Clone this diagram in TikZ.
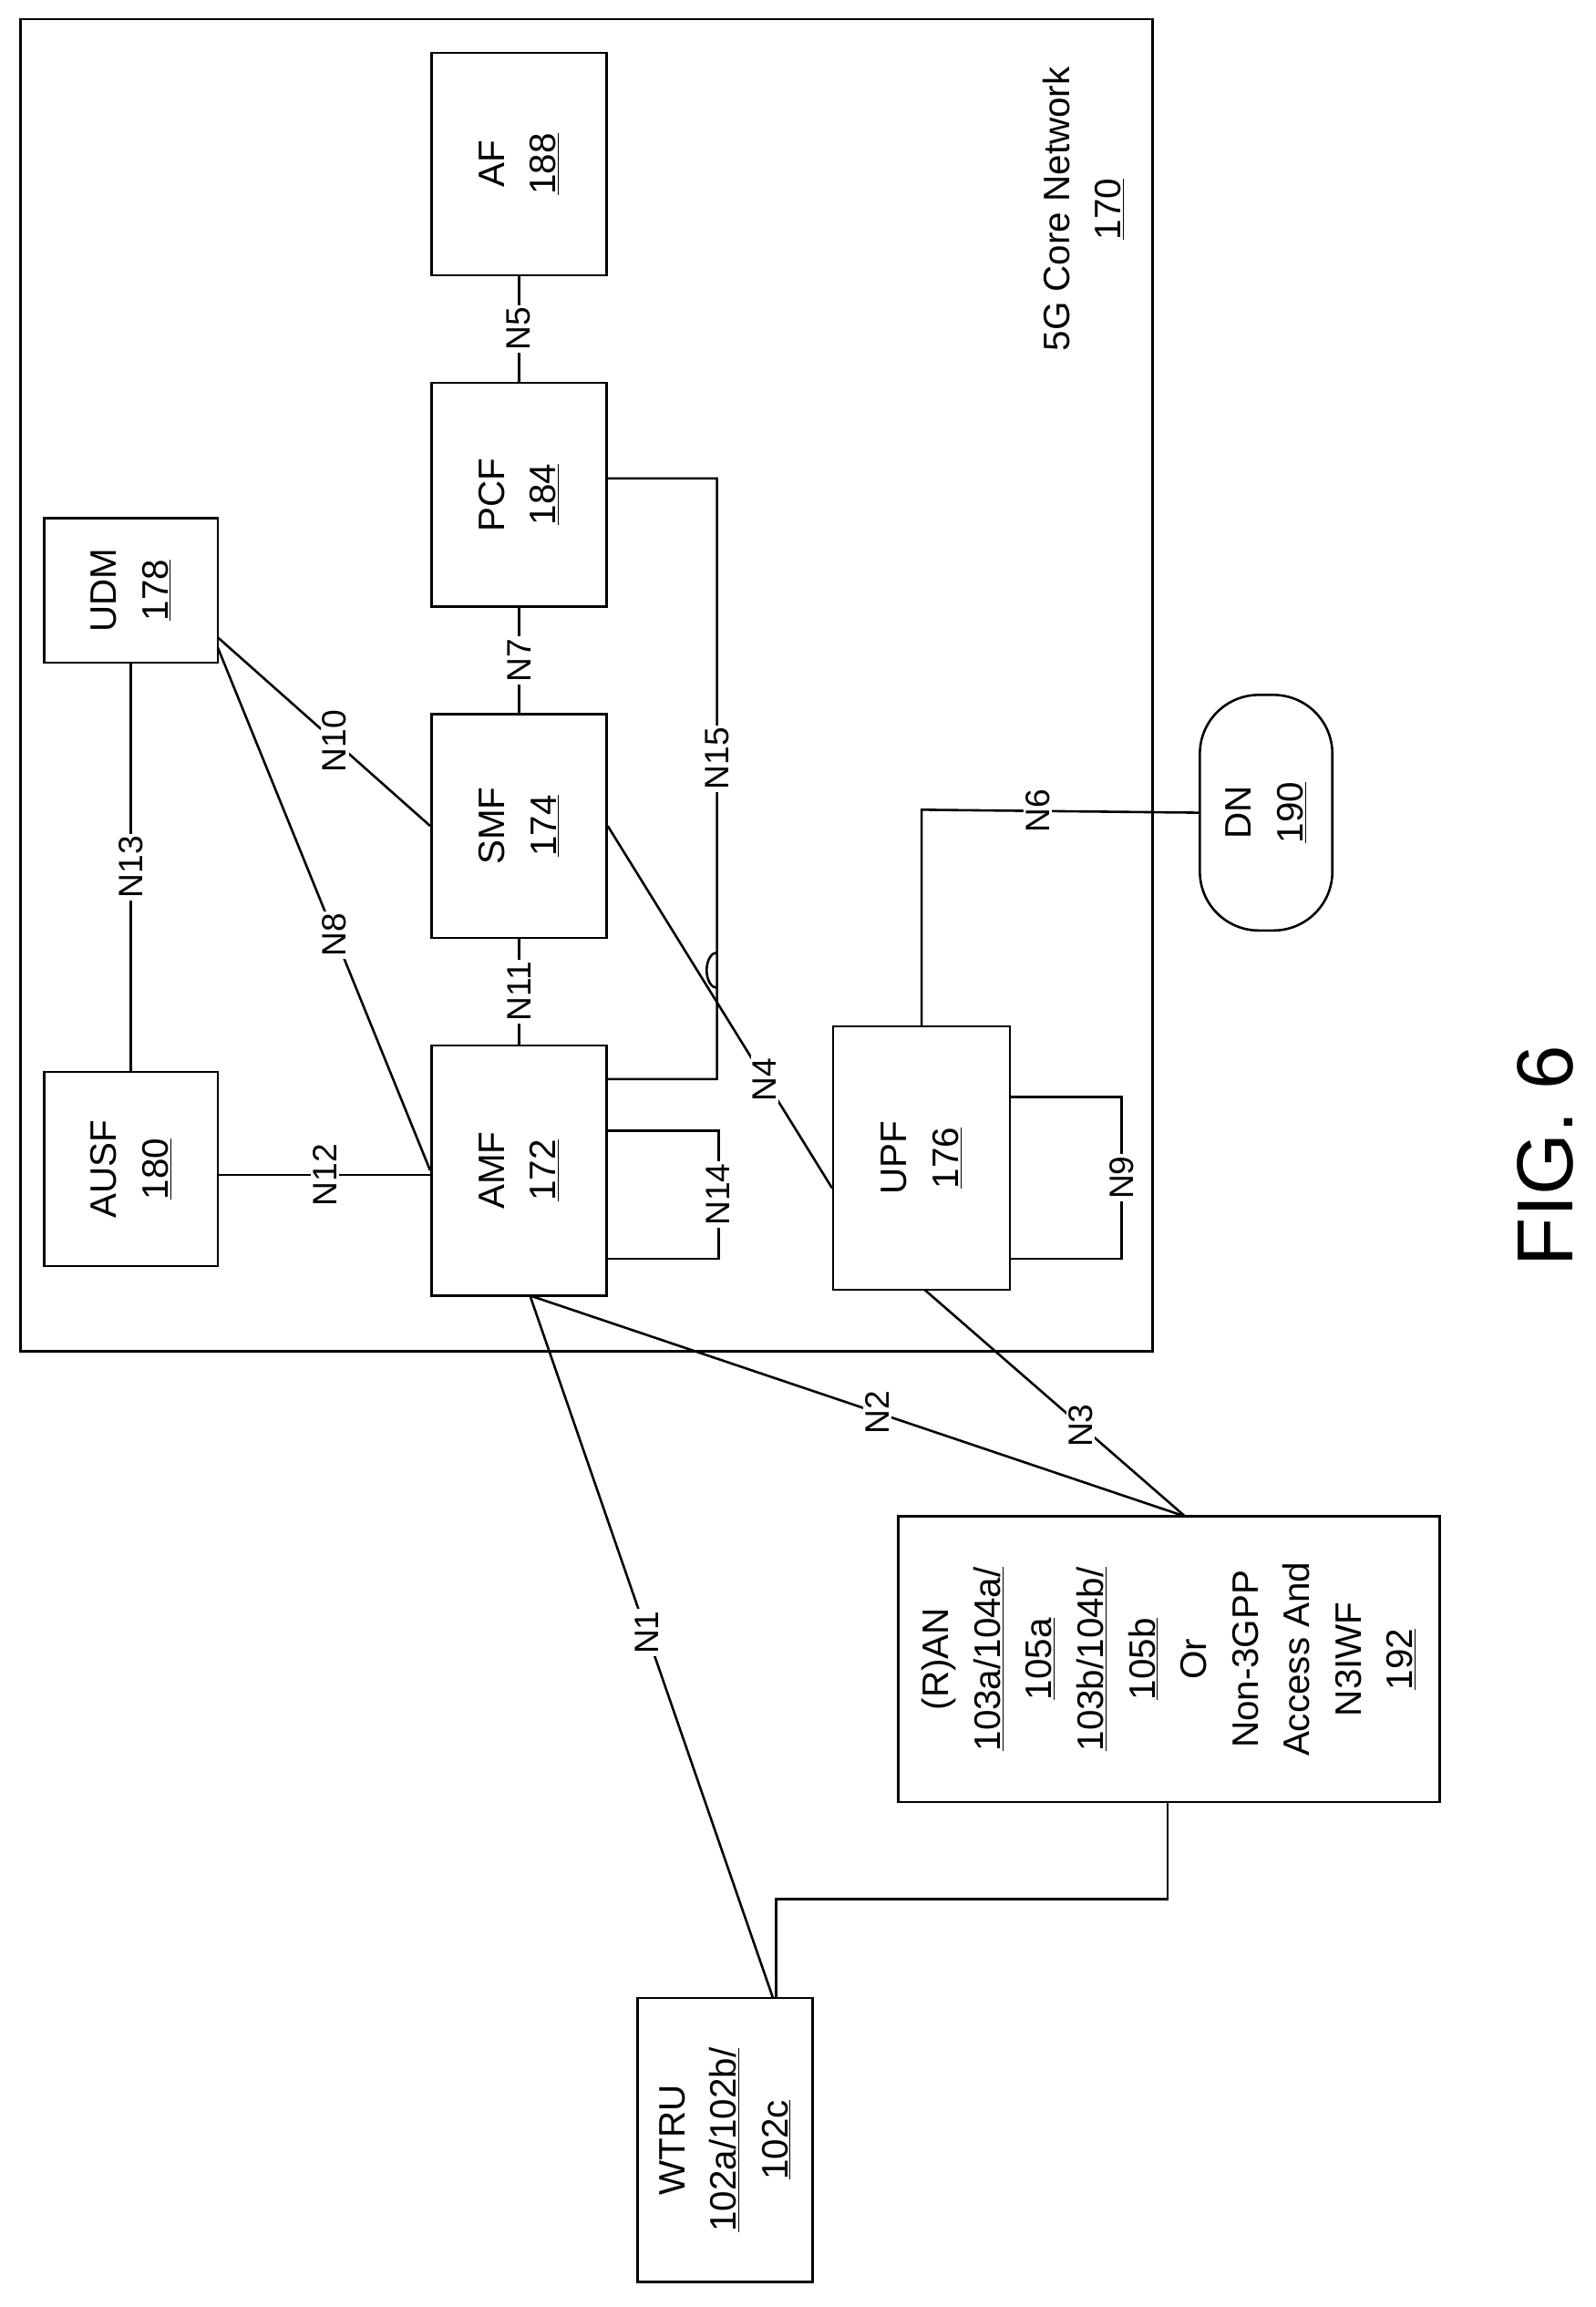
\documentclass[tikz,border=0pt]{standalone}
\usepackage{fontspec}
\setmainfont{Liberation Sans}
\usetikzlibrary{calc}
\begin{document}
\begin{tikzpicture}[x=1pt,y=-1pt,line width=1.6pt,
 box/.style={draw,inner sep=0pt},
 txt/.style={rotate=90,align=center,font=\fontsize{25}{35}\selectfont,inner sep=0pt},
 lab/.style={rotate=90,fill=white,inner sep=1.5pt,font=\fontsize{23}{26}\selectfont}]
\useasboundingbox (0,0) rectangle (1084,1567);
\draw (14,13) rectangle (783,918);
\node[box,minimum width=119pt,minimum height=151pt] (af) at (352.5,111.5) {};
\node[box,minimum width=119pt,minimum height=152pt] (pcf) at (352.5,336) {};
\node[box,minimum width=119pt,minimum height=152pt] (smf) at (352.5,561) {};
\node[box,minimum width=119pt,minimum height=170pt] (amf) at (352.5,795) {};
\node[box,minimum width=118pt,minimum height=98pt] (udm) at (89,401) {};
\node[box,minimum width=118pt,minimum height=132pt] (ausf) at (89,794) {};
\node[box,minimum width=120pt,minimum height=179pt] (upf) at (626,786.5) {};
\node[draw,rounded corners=40pt,minimum width=90pt,minimum height=160pt] (dn) at (860,552) {};
\node[box,minimum width=368pt,minimum height=194pt] (ran) at (794,1127) {};
\node[box,minimum width=119pt,minimum height=193pt] (wtru) at (492.5,1453.5) {};
\node[txt] at (af) {AF\\\underline{188}};
\node[txt] at (pcf) {PCF\\\underline{184}};
\node[txt] at (smf) {SMF\\\underline{174}};
\node[txt] at (amf) {AMF\\\underline{172}};
\node[txt] at (udm) {UDM\\\underline{178}};
\node[txt] at (ausf) {AUSF\\\underline{180}};
\node[txt] at (upf) {UPF\\\underline{176}};
\node[txt] at (dn) {DN\\\underline{190}};
\node[txt] at (ran) {(R)AN\\\underline{103a/104a/}\\\underline{105a}\\\underline{103b/104b/}\\\underline{105b}\\Or\\Non-3GPP\\Access And\\N3IWF\\\underline{192}};
\node[txt] at (wtru) {WTRU\\\underline{102a/102b/}\\\underline{102c}};
\node[txt] (core) at (736,142) {5G Core Network\\\underline{170}};
\node[rotate=90,font=\fontsize{54}{58}\selectfont,inner sep=0pt] (fig) at (1050,785) {FIG. 6};
% connectors
\draw (af) -- node[lab]{N5} (pcf);
\draw (pcf) -- node[lab]{N7} (smf);
\draw (smf) -- node[lab]{N11} (amf);
\draw (udm) -- node[lab]{N13} (ausf);
\draw (ausf.east |- 0,798) -- node[lab,pos=0.5]{N12} (amf.west |- 0,798);
\draw (148,433) -- node[lab,pos=0.55]{N10} (smf.west);
\draw (148,440) -- node[lab,pos=0.55]{N8} (amf.west);
\draw (smf.east) -- node[lab,pos=0.7]{N4} (upf.west |- 0,807);
\draw (pcf.east |- 0,325) -- (487,325) -- node[lab,pos=0.55]{N15} (487,671) arc[start angle=90,end angle=270,x radius=7,y radius=12] -- (487,733) -- (amf.east |- 0,733);
\draw (amf.east |- 0,768) -- (488,768) -- node[lab]{N14} (488,855) -- (amf.east |- 0,855);
\draw (upf.east |- 0,745) -- (762,745) -- node[lab]{N9} (762,855) -- (upf.east |- 0,855);
\draw (upf.north |- 0,697) -- (626,550) -- node[lab,pos=0.42]{N6} (dn.west);
\draw (360,880) -- node[lab,pos=0.53]{N2} (805,1030);
\draw (628,876) -- node[lab,pos=0.6]{N3} (805,1030);
\draw (360,880) -- node[lab,pos=0.48]{N1} (525,1357);
\draw (793,1224) -- (793,1290) -- (527,1290) -- (527,1357);
\end{tikzpicture}
\end{document}
